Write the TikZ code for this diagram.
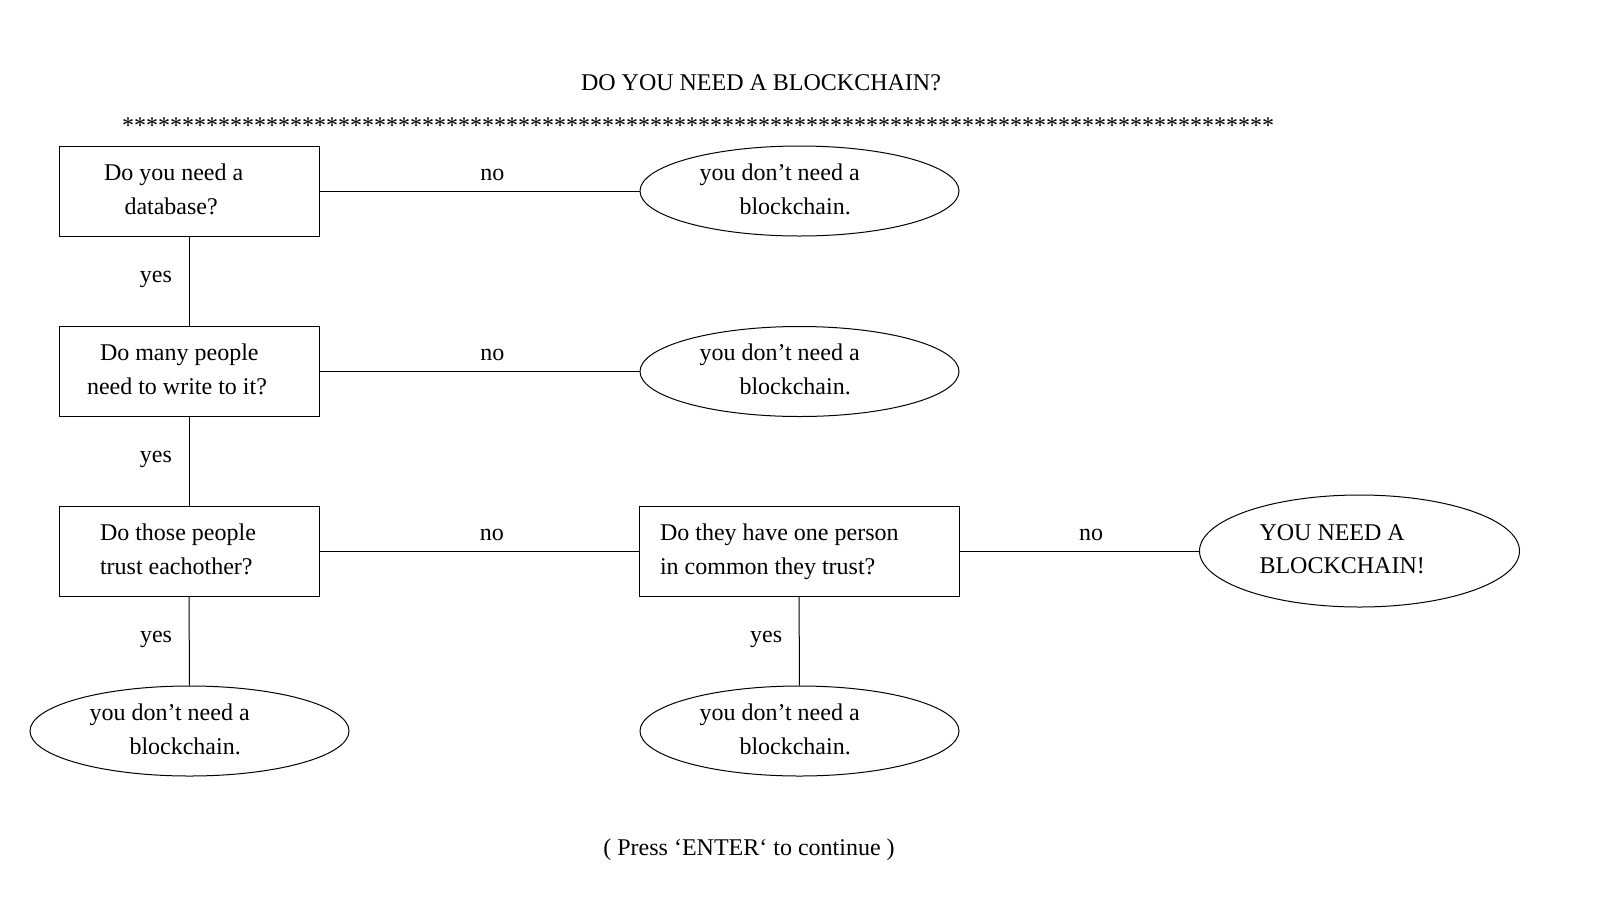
\documentclass[tikz,border=0pt]{standalone}
\usepackage{fontspec}
\setmainfont{Liberation Serif}
\usepackage{tikz}
\usetikzlibrary{shapes.geometric}

\tikzset{
  question/.style={shape=rectangle, draw=black, minimum width=130pt, minimum height=45pt, text width=102pt, text depth=18.85pt, align=flush left},
  answer/.style={shape=ellipse, draw=black, minimum width=159.5pt, minimum height=45pt, inner sep=0pt, text width=100pt, text depth=18.85pt, align=flush left},
}

\begin{document}
\begin{tikzpicture}[x=0.5pt, y=-0.5pt, line width=0.5pt, font=\fontsize{12}{16.85}\selectfont]
    \useasboundingbox (0,0) rectangle (1600,900);
    \node at (761,83) (title) {DO YOU NEED A BLOCKCHAIN?};
    \node at (698,126) (stars) {\foreach \i in {1,...,96}{*}};

    \node[question] at (189,191) (Q0) {\hspace*{8.5pt}Do you need a\\\hspace*{18.75pt}database?};
    \node[question] at (189,371.5) (Q1) {\hspace*{6.5pt}Do many people\\need to write to it?};
    \node[question] at (189,551) (Q2) {\hspace*{6.5pt}Do those people\\\hspace*{6.5pt}trust eachother?};
    \node[question, minimum width=160pt, text width=139pt] at (799,551) (Q3) {Do they have one person\\in common they trust?};

    \node[answer] at (799.5,191) (A0) {you don’t need a\\\hspace*{20pt}blockchain.};
    \node[answer] at (799.5,371.5) (A1) {you don’t need a\\\hspace*{20pt}blockchain.};
    \node[answer] at (189.5,731) (A2) {you don’t need a\\\hspace*{20pt}blockchain.};
    \node[answer] at (799.5,731) (A3) {you don’t need a\\\hspace*{20pt}blockchain.};
    \node[answer, minimum width=160pt, minimum height=56pt] at (1359.5,551) (A4) {YOU NEED A\\BLOCKCHAIN!};

    \path (Q0) edge node[pos=0.54, above=1.8pt] {no} (A0);
    \path (Q1) edge node[pos=0.54, above=1.8pt] {no} (A1);
    \path (Q2) edge node[pos=0.54, above=1.8pt] {no} (Q3);
    \path (Q3) edge node[pos=0.55, above=1.8pt] {no} (A4);
    \path (Q0) edge node[pos=0.48, left=5pt] {yes} (Q1);
    \path (Q1) edge node[pos=0.48, left=5pt] {yes} (Q2);
    \path (Q2) edge node[pos=0.48, left=5pt] {yes} (A2);
    \path (Q3) edge node[pos=0.48, left=5pt] {yes} (A3);

    \node at (749,850) (enter) {( Press ‘ENTER‘ to continue )};
    \end{tikzpicture}
\end{document}
